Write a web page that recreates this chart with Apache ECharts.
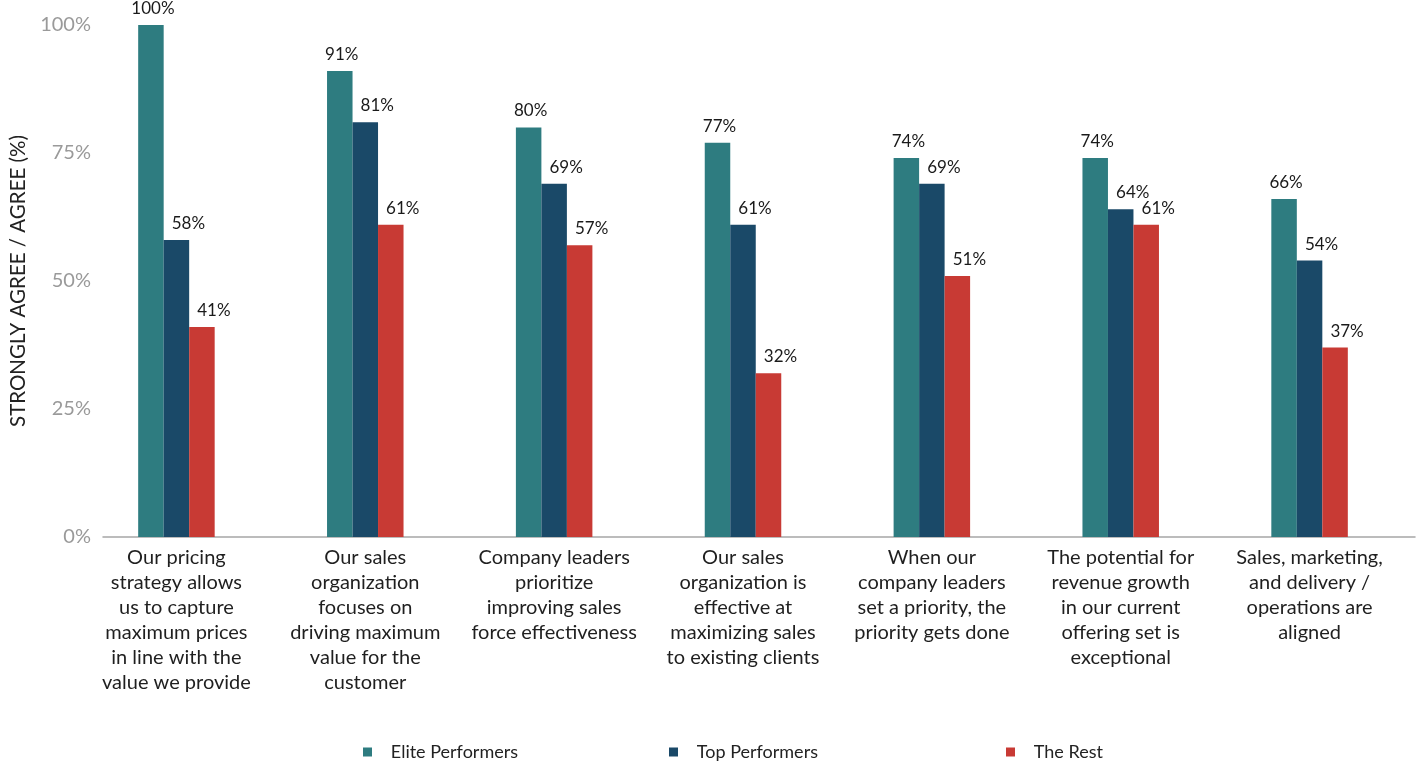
<!DOCTYPE html>
<html>
<head>
<meta charset="utf-8">
<script src="https://cdn.jsdelivr.net/npm/echarts@6/dist/echarts.min.js"></script>
<style>
  html, body { margin: 0; padding: 0; background: #ffffff; }
  #chart { width: 1422px; height: 763px; }
</style>
</head>
<body>
<div id="chart"></div>
<script>
// Survey statements (x-axis categories)
const categories = [
  "Our pricing\nstrategy allows\nus to capture\nmaximum prices\nin line with the\nvalue we provide",
  "Our sales\norganization\nfocuses on\ndriving maximum\nvalue for the\ncustomer",
  "Company leaders\nprioritize\nimproving sales\nforce effectiveness",
  "Our sales\norganization is\neffective at\nmaximizing sales\nto existing clients",
  "When our\ncompany leaders\nset a priority, the\npriority gets done",
  "The potential for\nrevenue growth\nin our current\noffering set is\nexceptional",
  "Sales, marketing,\nand delivery /\noperations are\naligned"
];

// Share answering "strongly agree / agree" (%)
const elitePerformers = [100, 91, 80, 77, 74, 74, 66];
const topPerformers   = [58, 81, 69, 61, 69, 64, 54];
const theRest         = [41, 61, 57, 32, 51, 61, 37];

const seriesNames = ["Elite Performers", "Top Performers", "The Rest"];
const colors = ["#2e7c80", "#1a4968", "#c83a34"];

const FONT = "Lato, 'Noto Sans', sans-serif";

const chart = echarts.init(document.getElementById('chart'), null, { renderer: 'canvas' });

function barSeries(idx, data, labelShift) {
  return {
    name: seriesNames[idx],
    type: 'bar',
    xAxisIndex: 0,
    yAxisIndex: 0,
    data: data,
    barWidth: 25.5,
    barGap: '0%',
    itemStyle: { color: colors[idx] },
    label: {
      show: true,
      position: 'top',
      distance: 8,
      offset: [labelShift, 0],
      formatter: '{c}%',
      color: '#1a1a1a',
      fontFamily: FONT,
      fontSize: 17
    }
  };
}

function legendFor(name, left) {
  return {
    data: [name],
    left: left,
    top: 738,
    icon: 'rect',
    itemWidth: 9,
    itemHeight: 9,
    formatter: n => '   ' + n,
    textStyle: { fontFamily: FONT, fontSize: 18, color: '#222' }
  };
}

const option = {
  backgroundColor: '#ffffff',
  animation: false,
  color: colors,
  legend: [
    legendFor(seriesNames[0], 358),
    legendFor(seriesNames[1], 664),
    legendFor(seriesNames[2], 1001)
  ],
  grid: [
    { left: 81, right: 18, top: 25, bottom: 226, containLabel: false },
    // baseline rule under the bars
    { left: 103, right: 7, top: 25, bottom: 226, containLabel: false }
  ],
  xAxis: [
    {
      type: 'category',
      gridIndex: 0,
      data: categories,
      axisLine: { show: false },
      axisTick: { show: false },
      axisLabel: {
        interval: 0,
        margin: 8,
        fontFamily: FONT,
        fontSize: 20,
        lineHeight: 25,
        color: '#1f1f1f',
        align: 'center'
      }
    },
    {
      type: 'value',
      gridIndex: 1,
      min: 0,
      max: 1,
      axisLine: { show: true, lineStyle: { color: '#a6a6a6', width: 1.5 } },
      axisTick: { show: false },
      axisLabel: { show: false },
      splitLine: { show: false }
    }
  ],
  yAxis: [
    {
      type: 'value',
      gridIndex: 0,
      min: 0,
      max: 100,
      interval: 25,
      name: 'STRONGLY AGREE / AGREE (%)',
      nameLocation: 'middle',
      nameGap: 53,
      nameTextStyle: { fontFamily: FONT, fontSize: 20.5, color: '#222' },
      axisLine: { show: false },
      axisTick: { show: false },
      splitLine: { show: false },
      axisLabel: {
        margin: -9,
        formatter: '{value}%',
        fontFamily: FONT,
        fontSize: 20,
        color: '#9a9a9a'
      }
    },
    {
      type: 'value',
      gridIndex: 1,
      show: false
    }
  ],
  series: [
    barSeries(0, elitePerformers, 2),
    barSeries(1, topPerformers, 12),
    barSeries(2, theRest, 12)
  ]
};

chart.setOption(option);
</script>
</body>
</html>
